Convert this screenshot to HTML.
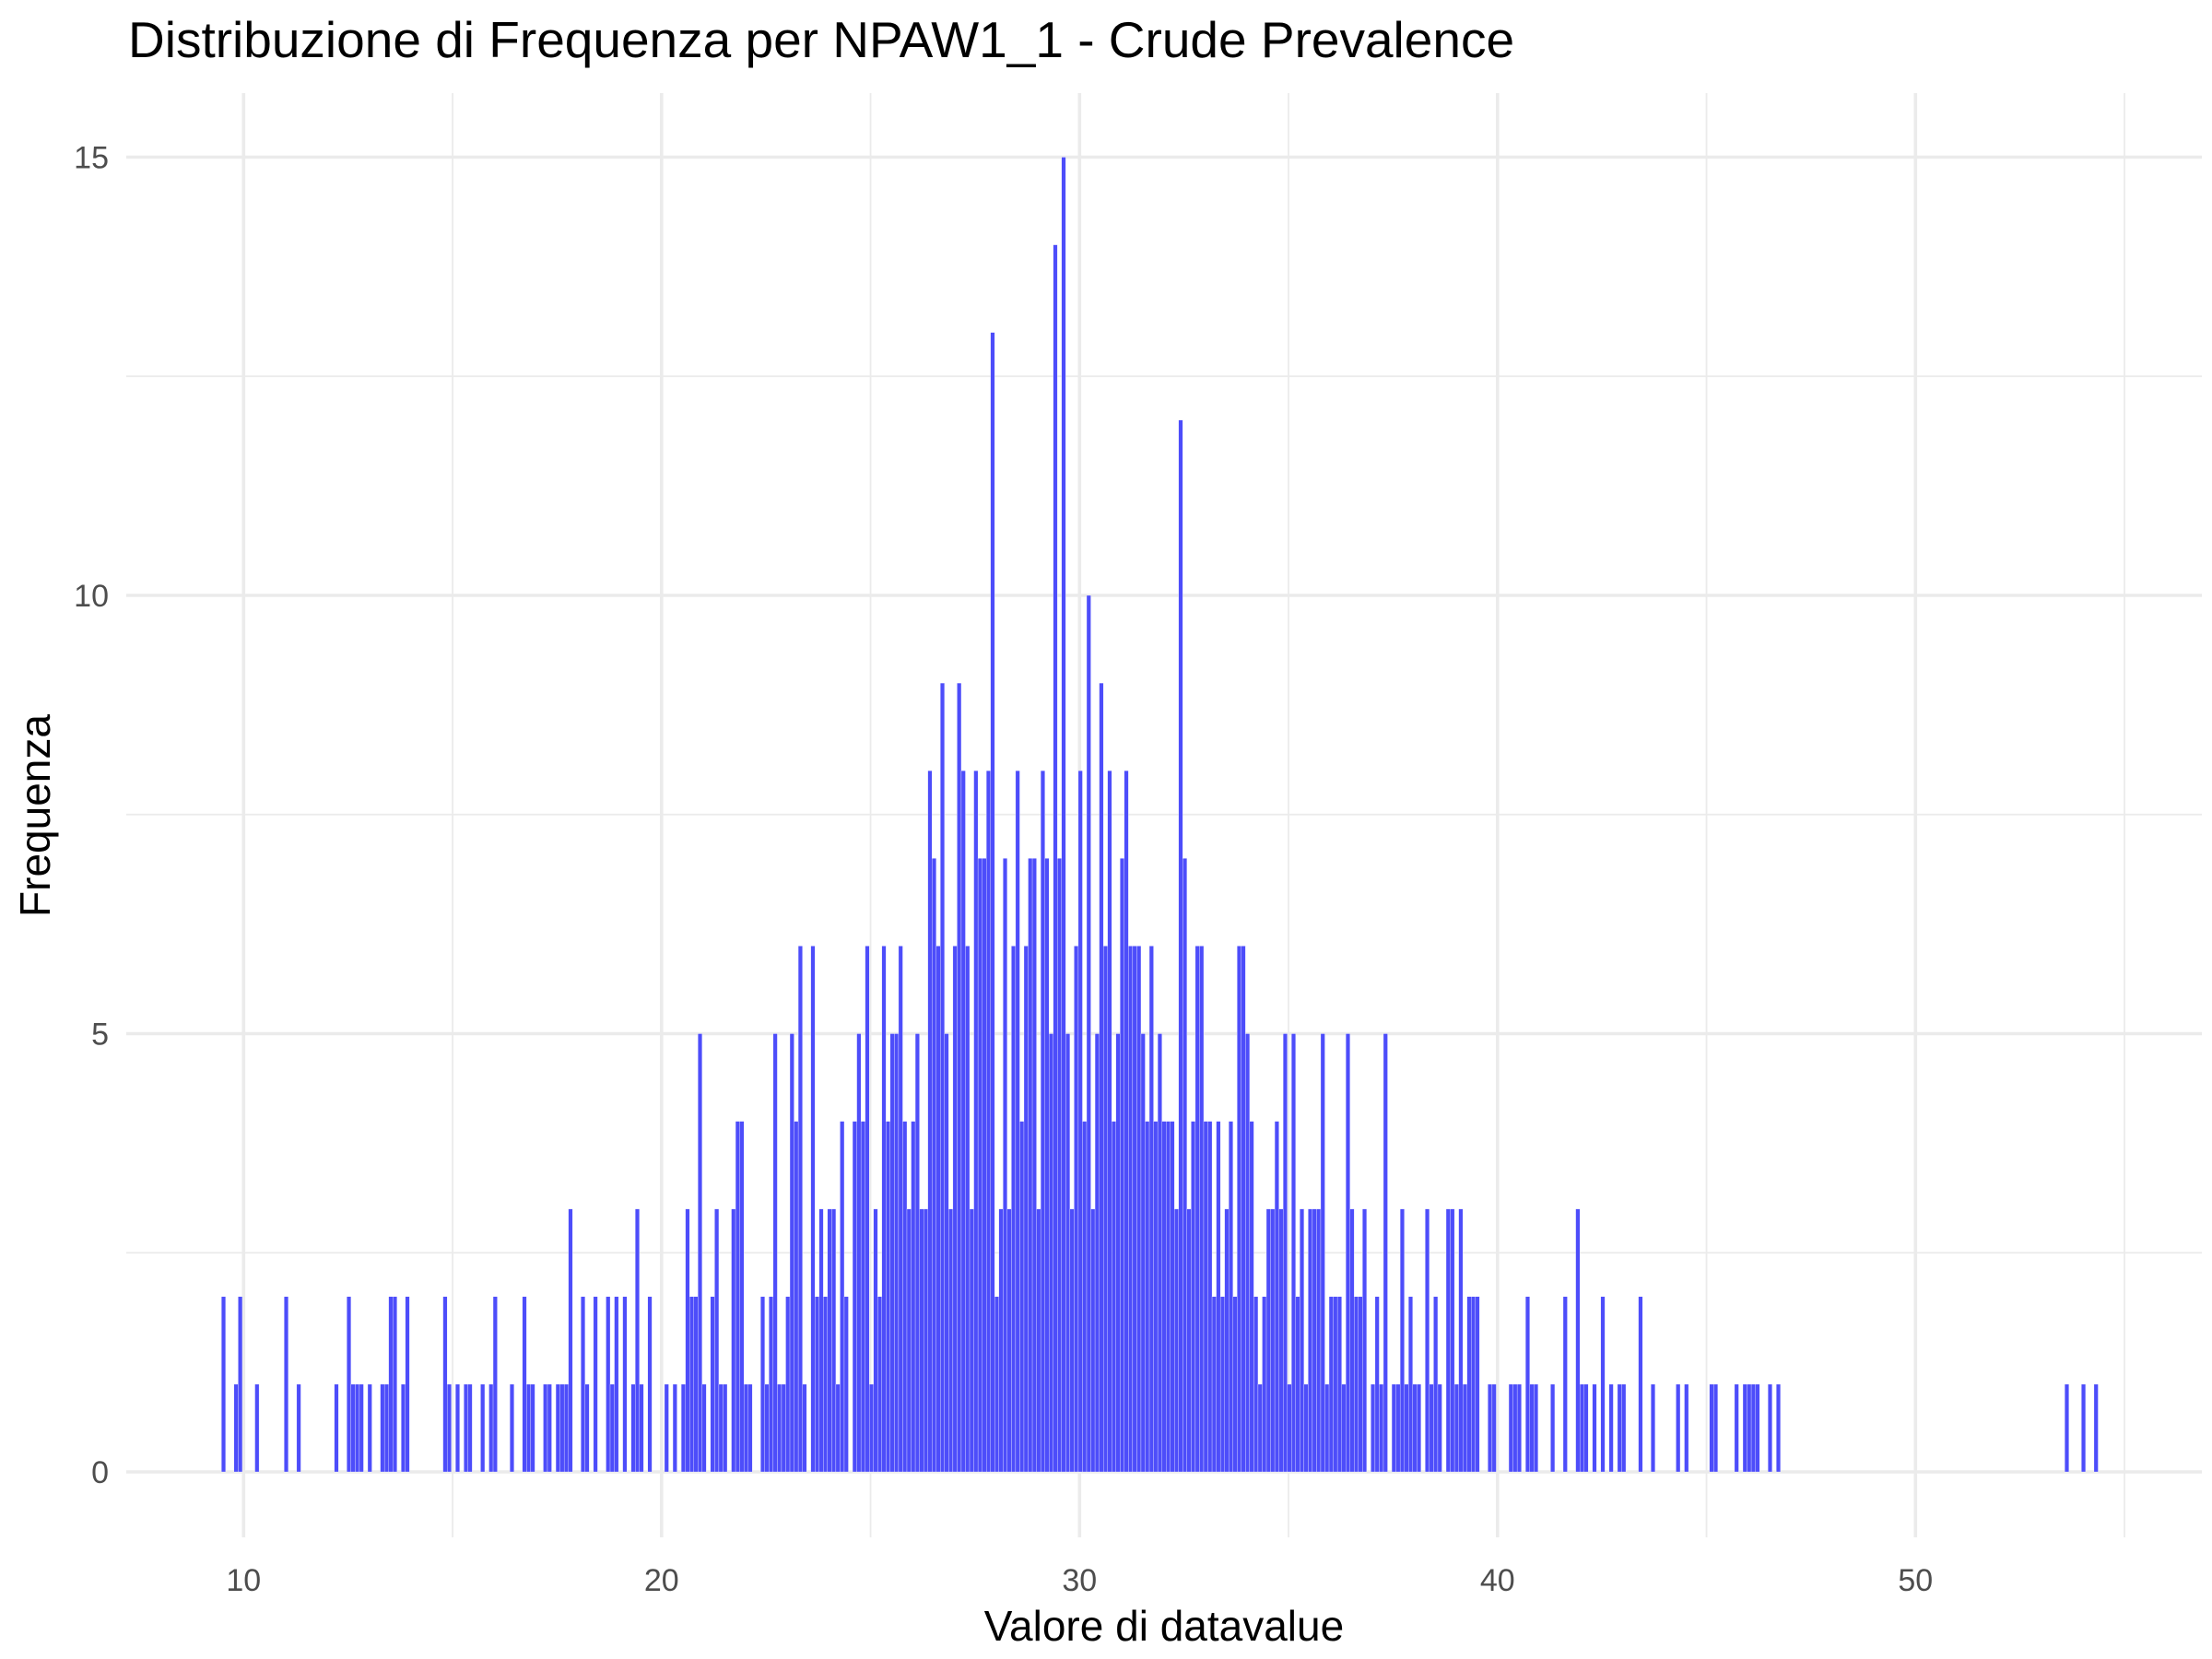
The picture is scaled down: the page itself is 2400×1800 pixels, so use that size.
<!DOCTYPE html>
<html><head><meta charset="utf-8">
<style>
html,body{margin:0;padding:0;background:#fff;}
svg{display:block;font-family:"Liberation Sans",Arial,sans-serif;}
</style></head>
<body>
<svg id="chart" width="2400" height="1800" viewBox="0 0 2400 1800" xmlns="http://www.w3.org/2000/svg">
<rect width="2400" height="1800" fill="#ffffff"/>
<g id="grid"></g>
<g id="bars"></g>
<g id="xticks"></g>
<g id="yticks"></g>
<text x="139" y="62" font-size="55" fill="#000">Distribuzione di Frequenza per NPAW1_1 - Crude Prevalence</text>
<text x="1263" y="1780" font-size="46" text-anchor="middle" fill="#000">Valore di datavalue</text>
<text x="0" y="0" font-size="46" text-anchor="middle" fill="#000" transform="translate(54,885) rotate(-90)">Frequenza</text>
</svg>
<script>
const binValues = [9.5,9.8,9.9,10.3,11.0,11.3,12.2,12.5,12.6,12.7,12.8,13.0,13.3,13.4,13.5,13.6,13.8,13.9,14.8,14.9,15.1,15.3,15.4,15.7,15.9,16.0,16.4,16.7,16.8,16.9,17.2,17.3,17.5,17.6,17.7,17.8,18.1,18.2,18.4,18.7,18.8,18.9,19.1,19.3,19.4,19.5,19.7,20.1,20.3,20.5,20.6,20.7,20.8,20.9,21.0,21.2,21.3,21.4,21.5,21.7,21.8,21.9,22.0,22.1,22.4,22.5,22.6,22.7,22.8,22.9,23.0,23.1,23.2,23.3,23.4,23.6,23.7,23.8,23.9,24.0,24.1,24.2,24.3,24.4,24.6,24.7,24.8,24.9,25.0,25.1,25.2,25.3,25.4,25.5,25.6,25.7,25.8,25.9,26.0,26.1,26.2,26.3,26.4,26.5,26.6,26.7,26.8,26.9,27.0,27.1,27.2,27.3,27.4,27.5,27.6,27.7,27.8,27.9,28.0,28.1,28.2,28.3,28.4,28.5,28.6,28.7,28.8,28.9,29.0,29.1,29.2,29.3,29.4,29.5,29.6,29.7,29.8,29.9,30.0,30.1,30.2,30.3,30.4,30.5,30.6,30.7,30.8,30.9,31.0,31.1,31.2,31.3,31.4,31.5,31.6,31.7,31.8,31.9,32.0,32.1,32.2,32.3,32.4,32.5,32.6,32.7,32.8,32.9,33.0,33.1,33.2,33.3,33.4,33.5,33.6,33.7,33.8,33.9,34.0,34.1,34.2,34.3,34.4,34.5,34.6,34.7,34.8,34.9,35.0,35.1,35.2,35.3,35.4,35.5,35.6,35.7,35.8,35.9,36.0,36.1,36.2,36.3,36.4,36.5,36.6,36.7,36.8,37.0,37.1,37.2,37.3,37.5,37.6,37.7,37.8,37.9,38.0,38.1,38.3,38.4,38.5,38.6,38.8,38.9,39.0,39.1,39.2,39.3,39.4,39.5,39.8,39.9,40.3,40.4,40.5,40.7,40.8,40.9,41.3,41.6,41.9,42.0,42.1,42.3,42.5,42.7,42.9,43.0,43.4,43.7,44.3,44.5,45.1,45.2,45.7,45.9,46.0,46.1,46.2,46.5,46.7,53.6,54.0,54.3];
const binCounts = [2,1,2,1,2,1,1,2,1,1,1,1,1,1,2,2,1,2,2,1,1,1,1,1,1,2,1,2,1,1,1,1,1,1,1,3,2,1,2,2,1,2,2,1,3,1,2,1,1,1,3,2,2,5,1,2,3,1,1,3,4,4,1,1,2,1,2,5,1,1,2,5,4,6,1,6,2,3,2,3,3,1,4,2,4,5,4,6,1,3,2,6,4,5,5,6,4,3,4,5,3,3,8,7,6,9,5,3,6,9,8,6,3,8,7,7,8,13,2,3,7,3,6,8,4,6,7,7,3,8,7,5,14,7,15,5,3,6,8,4,10,3,5,9,6,8,4,5,7,8,6,6,6,5,4,6,4,5,4,4,4,3,12,7,3,4,6,6,4,4,2,4,2,3,4,2,6,6,5,4,2,1,2,3,3,4,3,5,1,5,2,3,1,3,3,3,5,1,2,2,2,1,5,3,2,2,3,1,2,1,5,1,1,3,1,2,1,1,3,1,2,1,3,3,1,3,1,2,2,2,1,1,1,1,1,2,1,1,1,2,3,1,1,1,2,1,1,1,2,1,1,1,1,1,1,1,1,1,1,1,1,1,1,1];
const xMajorTicks = [10,20,30,40,50];
const xMinorTicks = [15,25,35,45,55];
const yMajorTicks = [0,5,10,15];
const yMinorTicks = [2.5,7.5,12.5];

const NS = "http://www.w3.org/2000/svg";
const panel = {left:137, right:2389, top:101, bottom:1668};
const BIN = 0.1;
function xScale(v){ return 264.3 + (v - 10) * 45.35; }
function yScale(v){ return 1597 - v * 95.1; }

const grid = document.getElementById('grid');
function gline(x1,y1,x2,y2,w,name){
  const l = document.createElementNS(NS,'line');
  l.setAttribute('x1',x1); l.setAttribute('y1',y1);
  l.setAttribute('x2',x2); l.setAttribute('y2',y2);
  l.setAttribute('stroke','#ebebeb'); l.setAttribute('stroke-width',w);
  
  
  grid.appendChild(l);
}
yMinorTicks.forEach(v => gline(panel.left, yScale(v), panel.right, yScale(v), 1.8, 'y-minor-gridline'));
xMinorTicks.forEach(v => gline(xScale(v), panel.top, xScale(v), panel.bottom, 1.8, 'x-minor-gridline'));
yMajorTicks.forEach(v => gline(panel.left, yScale(v), panel.right, yScale(v), 3.6, 'y-major-gridline'));
xMajorTicks.forEach(v => gline(xScale(v), panel.top, xScale(v), panel.bottom, 3.6, 'x-major-gridline'));

const bars = document.getElementById('bars');
binValues.forEach((v,i) => {
  const x0 = xScale(v - 0.03), x1 = xScale(v - 0.03 + BIN);
  const y0 = yScale(binCounts[i]), y1 = yScale(0);
  const r = document.createElementNS(NS,'rect');
  r.setAttribute('x', x0); r.setAttribute('y', y0);
  r.setAttribute('width', x1 - x0); r.setAttribute('height', y1 - y0);
  r.setAttribute('fill', 'rgb(77,77,250)');
  r.setAttribute('stroke', '#ffffff'); r.setAttribute('stroke-width', '0.3');
  
  
  bars.appendChild(r);
});

const xt = document.getElementById('xticks');
xMajorTicks.forEach(v => {
  const t = document.createElementNS(NS,'text');
  t.setAttribute('x', xScale(v)); t.setAttribute('y', 1726);
  t.setAttribute('text-anchor','middle'); t.setAttribute('font-size','34');
  t.setAttribute('fill','#4d4d4d');
  
  
  t.textContent = v;
  xt.appendChild(t);
});
const yt = document.getElementById('yticks');
yMajorTicks.forEach(v => {
  const t = document.createElementNS(NS,'text');
  t.setAttribute('x', 118); t.setAttribute('y', yScale(v) + 12);
  t.setAttribute('text-anchor','end'); t.setAttribute('font-size','34');
  t.setAttribute('fill','#4d4d4d');
  
  
  t.textContent = v;
  yt.appendChild(t);
});
</script>
</body></html>
